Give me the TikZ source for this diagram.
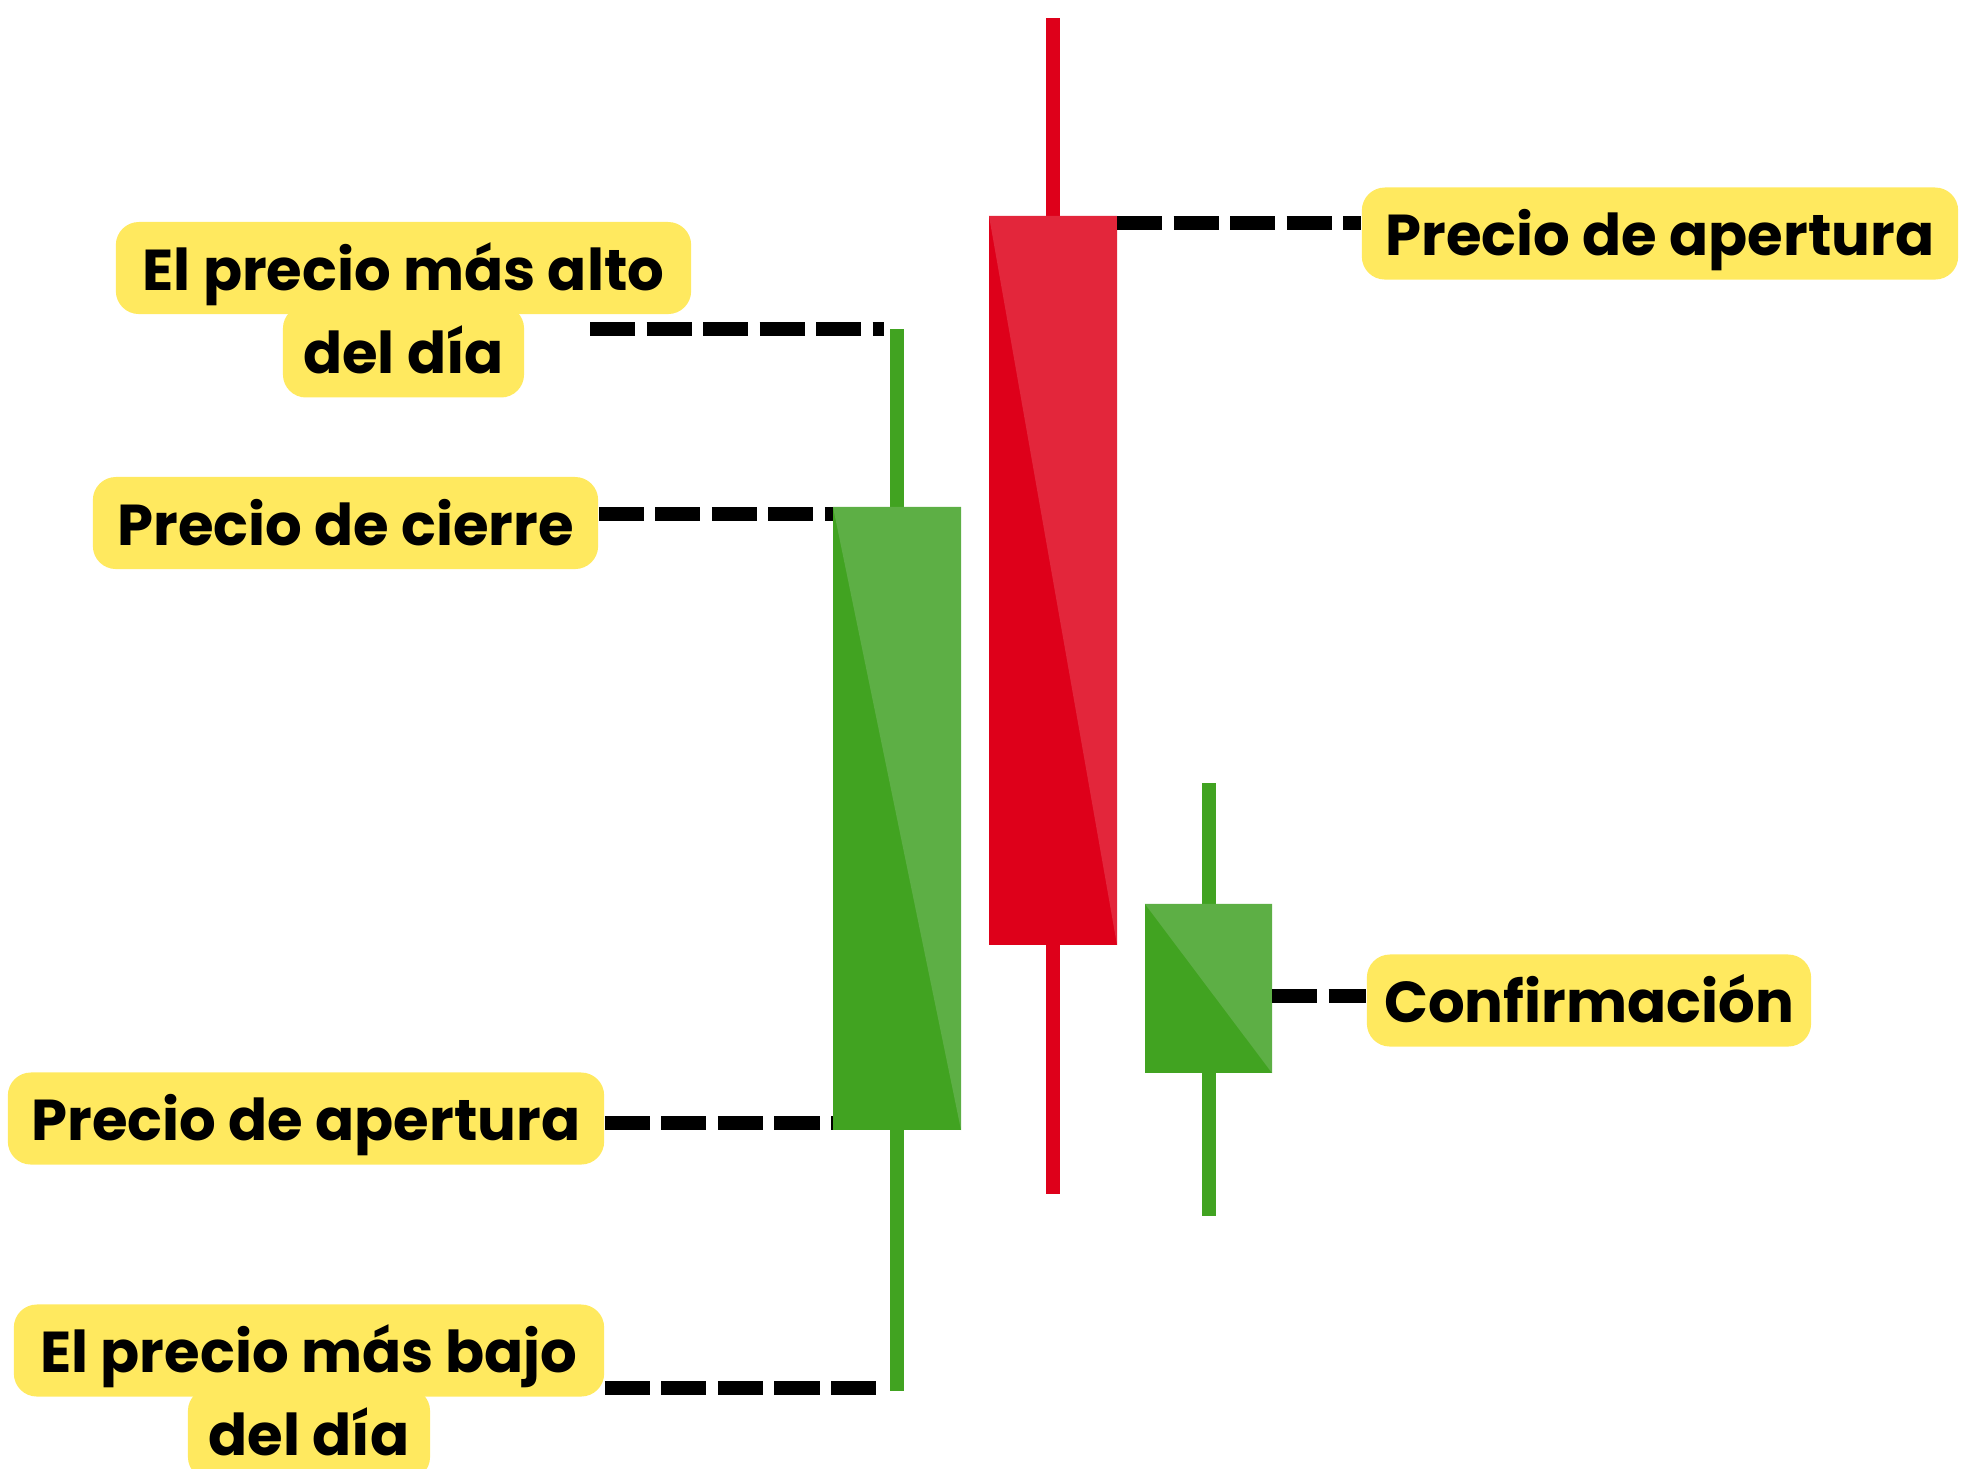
\documentclass[tikz,border=0pt]{standalone}
\usepackage{fontspec}
\setmainfont{Poppins}
\usetikzlibrary{positioning}
\definecolor{amarillo}{RGB}{255,233,95}
\definecolor{verdeosc}{RGB}{65,163,33}
\definecolor{verdecla}{RGB}{93,175,69}
\definecolor{rojoosc}{RGB}{222,0,26}
\definecolor{rojocla}{RGB}{227,38,59}

\tikzset{
  etiqueta/.style={fill=amarillo, rounded corners=0.23cm, inner xsep=0pt, inner ysep=0.06cm,
    text height=0.62cm, text depth=0.18cm, font=\fontsize{16.4}{20}\selectfont\bfseries},
  guion/.style={line width=0.14cm, dash pattern=on 0.45cm off 0.115cm},
  mecha/.style={line width=0.14cm},
  cuerpo/.style={minimum width=1.28cm, inner sep=0pt, outer sep=0pt}
}

\begin{document}
\begin{tikzpicture}[x=0.01cm, y=-0.01cm]
        \useasboundingbox (0,0) rectangle (1971,1468);

        % Vela verde grande
        \coordinate (verde-alto) at (897,329);
        \coordinate (verde-bajo) at (897,1391);
        \draw[mecha, verdeosc] (verde-alto) -- (verde-bajo);
        \node[cuerpo, fill=verdeosc, minimum height=6.23cm] (verde) at (897,818.5) {};
        \fill[verdecla] (verde.north west) -- (verde.north east) -- (verde.south east) -- cycle;

        % Vela roja
        \coordinate (rojo-alto) at (1053,18);
        \coordinate (rojo-bajo) at (1053,1194);
        \draw[mecha, rojoosc] (rojo-alto) -- (rojo-bajo);
        \node[cuerpo, fill=rojoosc, minimum height=7.29cm] (rojo) at (1053,580.5) {};
        \fill[rojocla] (rojo.north west) -- (rojo.north east) -- (rojo.south east) -- cycle;

        % Vela verde pequena
        \coordinate (peq-alto) at (1208.5,783);
        \coordinate (peq-bajo) at (1208.5,1216);
        \draw[mecha, verdeosc] (peq-alto) -- (peq-bajo);
        \node[cuerpo, fill=verdeosc, minimum width=1.27cm, minimum height=1.69cm] (peq) at (1208.5,988.5) {};
        \fill[verdecla] (peq.north west) -- (peq.north east) -- (peq.south east) -- cycle;

        % Etiquetas
        \node[etiqueta, minimum width=5.75cm] (alto) at (403.5,268) {El precio más alto};
        \node[etiqueta, minimum width=2.41cm, below=-0.10cm of alto] (alto2) {del día};
        \node[etiqueta, minimum width=5.05cm] (cierre) at (345.5,523) {Precio de cierre};
        \node[etiqueta, minimum width=5.96cm] (apert1) at (306,1118.5) {Precio de apertura};
        \node[etiqueta, minimum width=5.90cm] (bajo) at (309,1350.5) {El precio más bajo};
        \node[etiqueta, minimum width=2.42cm, below=-0.10cm of bajo] (bajo2) {del día};
        \node[etiqueta, minimum width=5.96cm] (apert2) at (1660,233.5) {Precio de apertura};
        \node[etiqueta, minimum width=4.44cm] (conf) at (1589,1000.5) {Confirmación};

        % Lineas
        \coordinate (alto-ini) at (590,329);
        \draw[guion] (alto-ini) -- ([xshift=-0.13cm]verde-alto);
        \draw[guion] ([yshift=-0.07cm]cierre.east |- verde.north) -- ([yshift=-0.07cm]verde.north west);
        \draw[guion] ([yshift=0.07cm]apert1.east |- verde.south) -- ([yshift=0.07cm]verde.south west);
        \draw[guion] ([yshift=0.03cm]bajo.east |- verde-bajo) -- ([xshift=-0.13cm,yshift=0.03cm]verde-bajo);
        \draw[guion] ([yshift=-0.07cm]rojo.north east) -- ([yshift=-0.07cm]rojo.north east -| apert2.west);
        \draw[guion] ([yshift=-0.075cm]peq.east) -- ([yshift=-0.075cm]peq.east -| conf.west);
\end{tikzpicture}
\end{document}
